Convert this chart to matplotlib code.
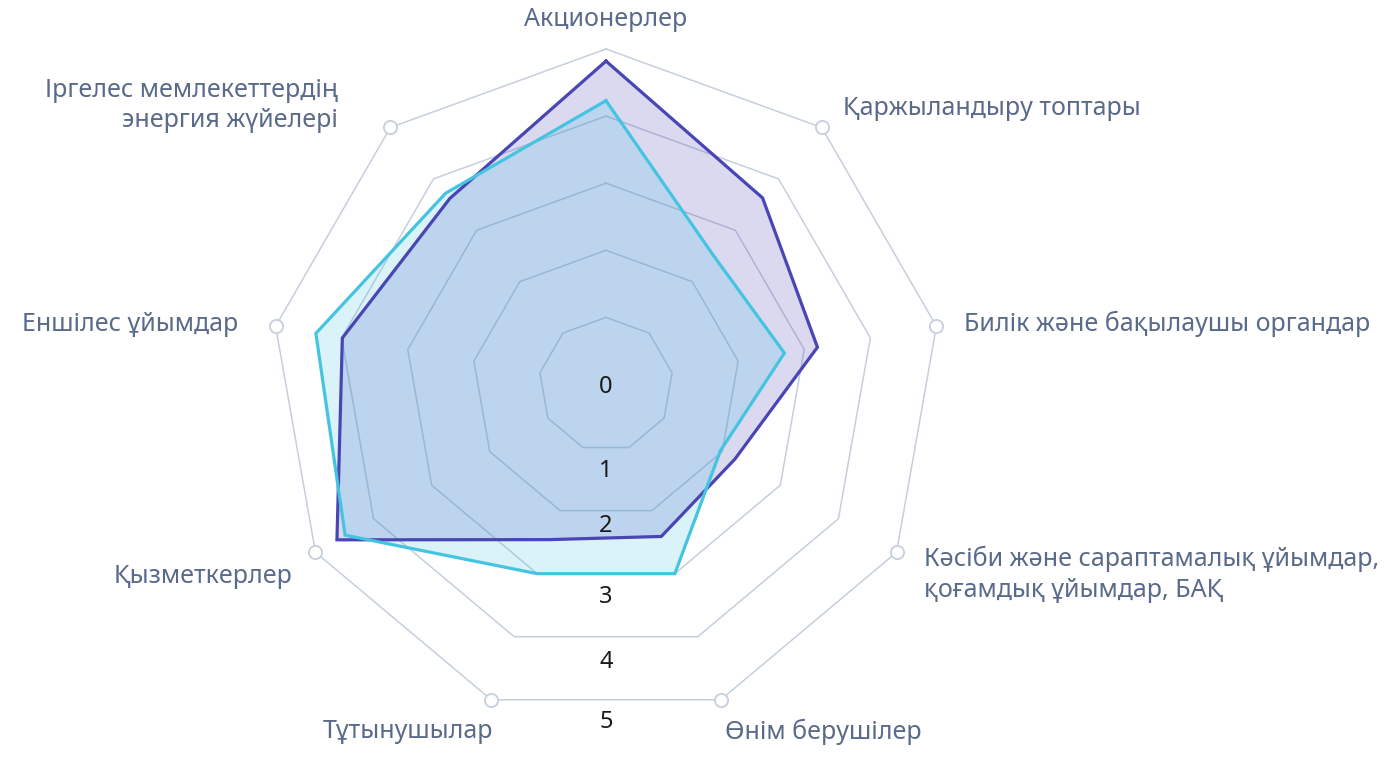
import numpy as np
import matplotlib.pyplot as plt

plt.rcParams['font.family'] = ['Noto Sans', 'DejaVu Sans']

# Categories, clockwise from the top
categories = [
    "Акционерлер",
    "Қаржыландыру топтары",
    "Билік және бақылаушы органдар",
    "Кәсіби және сараптамалық ұйымдар,\nқоғамдық ұйымдар, БАҚ",
    "Өнім берушілер",
    "Тұтынушылар",
    "Қызметкерлер",
    "Еншілес ұйымдар",
    "Іргелес мемлекеттердің\nэнергия жүйелері",
]
series_purple = [4.82, 3.63, 3.20, 2.22, 2.41, 2.46, 4.63, 3.99, 3.62]
series_cyan = [4.23, 2.50, 2.70, 1.97, 3.00, 3.00, 4.49, 4.39, 3.72]
ring_values = [1, 2, 3, 4, 5]
scale_labels = ["0", "1", "2", "3", "4", "5"]

PURPLE = "#4a45b5"
CYAN = "#45c4e2"
GRID = "#c6cfdc"
LABEL = "#5a6a8a"

W, H = 1395, 763
cx, cy, R = 606, 384.5, 335.5

fig = plt.figure(figsize=(W / 100, H / 100), dpi=100)
ax = fig.add_axes([(cx - R) / W, (H - cy - R) / H, 2 * R / W, 2 * R / H],
                  projection='polar')
ax.set_theta_zero_location('N')
ax.set_theta_direction(-1)
ax.set_ylim(0, 5)
ax.set_xticks([])
ax.set_yticks([])
ax.grid(False)
ax.spines['polar'].set_visible(False)
ax.patch.set_alpha(0)

n = len(categories)
theta = np.arange(n) * 2 * np.pi / n
theta_c = np.append(theta, theta[0])

# polygon grid rings
for v in ring_values:
    ax.plot(theta_c, [v] * (n + 1), color=GRID, lw=1.1, zorder=1, clip_on=False)

# outer vertex markers (none at the top)
ax.plot(theta[1:], [5] * (n - 1), 'o', ms=9.5, mfc='white', mec=GRID,
        mew=1.3, zorder=5, clip_on=False)

for vals, col in [(series_purple, PURPLE), (series_cyan, CYAN)]:
    vc = np.append(vals, vals[0])
    ax.fill(theta_c, vc, color=col, alpha=0.2, lw=0, zorder=2)
for vals, col in [(series_purple, PURPLE), (series_cyan, CYAN)]:
    vc = np.append(vals, vals[0])
    ax.plot(theta_c, vc, color=col, lw=2.3, zorder=3, solid_joinstyle='miter')

# scale labels down the bottom
scale_r = [0.04, 1.29, 2.11, 3.17, 4.13, 5.03]
for lab, r in zip(scale_labels, scale_r):
    ax.text(np.pi, r, lab, ha='center', va='center', fontsize=17,
            color='#1a1a1a', zorder=6, clip_on=False)

# category labels: pixel offsets from the outer vertex
offsets = [(0, 29, 'center'), (21, 19, 'left'), (28, 2, 'left'),
           (27, -22, 'left'), (4, -32, 'left'), (2, -32, 'right'),
           (-23, -24, 'right'), (-37, 2, 'right'), (-52, 22, 'right')]
for t, lab, (dx, dy, ha) in zip(theta, categories, offsets):
    ax.annotate(lab, xy=(t, 5), xytext=(dx, dy), textcoords='offset pixels',
                ha=ha, va='center', fontsize=18, color=LABEL,
                multialignment=ha if ha != 'center' else 'center',
                linespacing=1.3, annotation_clip=False)

fig.savefig('out.png', dpi=100)
